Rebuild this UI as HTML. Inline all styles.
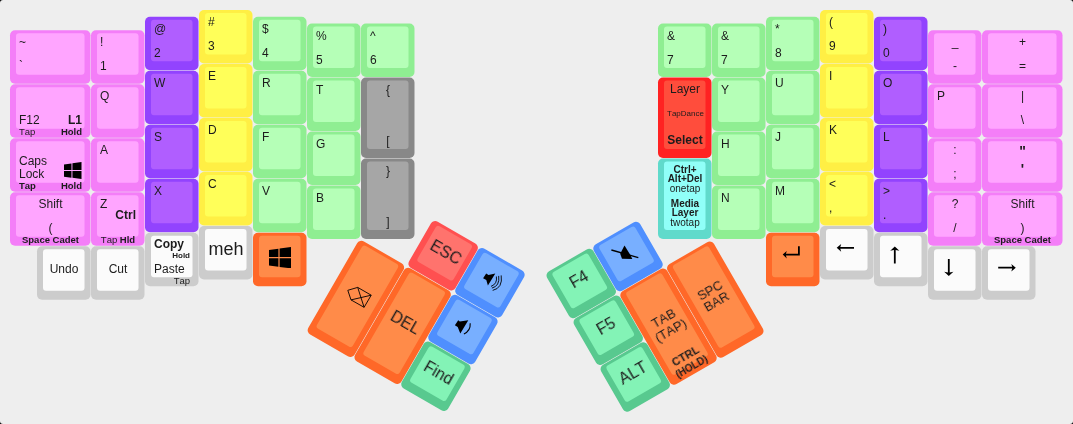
<!DOCTYPE html>
<html><head><meta charset="utf-8"><style>
html,body{margin:0;padding:0;background:#000;}
body{width:1073px;height:424px;overflow:hidden;position:relative;font-family:"Liberation Sans",sans-serif;color:#1c1c1c;font-kerning:none;}
.bg{position:absolute;left:0;top:0;width:1073px;height:424px;background:#eeeeee;border-radius:3px;}
.k{position:absolute;will-change:transform;}
.lb{position:absolute;white-space:nowrap;}
.grp{position:absolute;width:0;height:0;transform-origin:0 0;}
.ov{position:absolute;left:0;top:0;}
</style></head><body><div class="bg"></div>
<svg class="ov" width="1073" height="424" viewBox="0 0 1073 424"><rect x="10" y="30.25" width="80.5" height="53.5" rx="5" fill="#f47ef8"/><rect x="16" y="33.25" width="68.5" height="41.5" rx="3" fill="#ffa5ff"/><rect x="91" y="30.25" width="53.5" height="53.5" rx="5" fill="#f47ef8"/><rect x="97" y="33.25" width="41.5" height="41.5" rx="3" fill="#ffa5ff"/><rect x="145" y="16.75" width="53.5" height="53.5" rx="5" fill="#9243fe"/><rect x="151" y="19.75" width="41.5" height="41.5" rx="3" fill="#b05eff"/><rect x="199" y="10" width="53.5" height="53.5" rx="5" fill="#ffef44"/><rect x="205" y="13" width="41.5" height="41.5" rx="3" fill="#ffff59"/><rect x="253" y="16.75" width="53.5" height="53.5" rx="5" fill="#8fee92"/><rect x="259" y="19.75" width="41.5" height="41.5" rx="3" fill="#b5ffb7"/><rect x="307" y="23.5" width="53.5" height="53.5" rx="5" fill="#8fee92"/><rect x="313" y="26.5" width="41.5" height="41.5" rx="3" fill="#b5ffb7"/><rect x="361" y="23.5" width="53.5" height="53.5" rx="5" fill="#8fee92"/><rect x="367" y="26.5" width="41.5" height="41.5" rx="3" fill="#b5ffb7"/><rect x="10" y="84.25" width="80.5" height="53.5" rx="5" fill="#f47ef8"/><rect x="16" y="87.25" width="68.5" height="41.5" rx="3" fill="#ffa5ff"/><rect x="91" y="84.25" width="53.5" height="53.5" rx="5" fill="#f47ef8"/><rect x="97" y="87.25" width="41.5" height="41.5" rx="3" fill="#ffa5ff"/><rect x="145" y="70.75" width="53.5" height="53.5" rx="5" fill="#9243fe"/><rect x="151" y="73.75" width="41.5" height="41.5" rx="3" fill="#b05eff"/><rect x="199" y="64" width="53.5" height="53.5" rx="5" fill="#ffef44"/><rect x="205" y="67" width="41.5" height="41.5" rx="3" fill="#ffff59"/><rect x="253" y="70.75" width="53.5" height="53.5" rx="5" fill="#8fee92"/><rect x="259" y="73.75" width="41.5" height="41.5" rx="3" fill="#b5ffb7"/><rect x="307" y="77.5" width="53.5" height="53.5" rx="5" fill="#8fee92"/><rect x="313" y="80.5" width="41.5" height="41.5" rx="3" fill="#b5ffb7"/><rect x="361" y="77.5" width="53.5" height="80.5" rx="5" fill="#888888"/><rect x="367" y="80.5" width="41.5" height="68.5" rx="3" fill="#a6a6a6"/><rect x="10" y="138.25" width="80.5" height="53.5" rx="5" fill="#f47ef8"/><rect x="16" y="141.25" width="68.5" height="41.5" rx="3" fill="#ffa5ff"/><rect x="91" y="138.25" width="53.5" height="53.5" rx="5" fill="#f47ef8"/><rect x="97" y="141.25" width="41.5" height="41.5" rx="3" fill="#ffa5ff"/><rect x="145" y="124.75" width="53.5" height="53.5" rx="5" fill="#9243fe"/><rect x="151" y="127.75" width="41.5" height="41.5" rx="3" fill="#b05eff"/><rect x="199" y="118" width="53.5" height="53.5" rx="5" fill="#ffef44"/><rect x="205" y="121" width="41.5" height="41.5" rx="3" fill="#ffff59"/><rect x="253" y="124.75" width="53.5" height="53.5" rx="5" fill="#8fee92"/><rect x="259" y="127.75" width="41.5" height="41.5" rx="3" fill="#b5ffb7"/><rect x="307" y="131.5" width="53.5" height="53.5" rx="5" fill="#8fee92"/><rect x="313" y="134.5" width="41.5" height="41.5" rx="3" fill="#b5ffb7"/><rect x="361" y="158.5" width="53.5" height="80.5" rx="5" fill="#888888"/><rect x="367" y="161.5" width="41.5" height="68.5" rx="3" fill="#a6a6a6"/><rect x="10" y="192.25" width="80.5" height="53.5" rx="5" fill="#f47ef8"/><rect x="16" y="195.25" width="68.5" height="41.5" rx="3" fill="#ffa5ff"/><rect x="91" y="192.25" width="53.5" height="53.5" rx="5" fill="#f47ef8"/><rect x="97" y="195.25" width="41.5" height="41.5" rx="3" fill="#ffa5ff"/><rect x="145" y="178.75" width="53.5" height="53.5" rx="5" fill="#9243fe"/><rect x="151" y="181.75" width="41.5" height="41.5" rx="3" fill="#b05eff"/><rect x="199" y="172" width="53.5" height="53.5" rx="5" fill="#ffef44"/><rect x="205" y="175" width="41.5" height="41.5" rx="3" fill="#ffff59"/><rect x="253" y="178.75" width="53.5" height="53.5" rx="5" fill="#8fee92"/><rect x="259" y="181.75" width="41.5" height="41.5" rx="3" fill="#b5ffb7"/><rect x="307" y="185.5" width="53.5" height="53.5" rx="5" fill="#8fee92"/><rect x="313" y="188.5" width="41.5" height="41.5" rx="3" fill="#b5ffb7"/><rect x="37" y="246.25" width="53.5" height="53.5" rx="5" fill="#cccccc"/><rect x="43" y="249.25" width="41.5" height="41.5" rx="3" fill="#fbfbfb"/><rect x="91" y="246.25" width="53.5" height="53.5" rx="5" fill="#cccccc"/><rect x="97" y="249.25" width="41.5" height="41.5" rx="3" fill="#fbfbfb"/><rect x="145" y="232.75" width="53.5" height="53.5" rx="5" fill="#cccccc"/><rect x="151" y="235.75" width="41.5" height="41.5" rx="3" fill="#fbfbfb"/><rect x="199" y="226" width="53.5" height="53.5" rx="5" fill="#cccccc"/><rect x="205" y="229" width="41.5" height="41.5" rx="3" fill="#fbfbfb"/><rect x="253" y="232.75" width="53.5" height="53.5" rx="5" fill="#ff6828"/><rect x="259" y="235.75" width="41.5" height="41.5" rx="3" fill="#ff8b49"/><rect x="658" y="23.5" width="53.5" height="53.5" rx="5" fill="#8fee92"/><rect x="664" y="26.5" width="41.5" height="41.5" rx="3" fill="#b5ffb7"/><rect x="712" y="23.5" width="53.5" height="53.5" rx="5" fill="#8fee92"/><rect x="718" y="26.5" width="41.5" height="41.5" rx="3" fill="#b5ffb7"/><rect x="766" y="16.75" width="53.5" height="53.5" rx="5" fill="#8fee92"/><rect x="772" y="19.75" width="41.5" height="41.5" rx="3" fill="#b5ffb7"/><rect x="820" y="10" width="53.5" height="53.5" rx="5" fill="#ffef44"/><rect x="826" y="13" width="41.5" height="41.5" rx="3" fill="#ffff59"/><rect x="874" y="16.75" width="53.5" height="53.5" rx="5" fill="#9243fe"/><rect x="880" y="19.75" width="41.5" height="41.5" rx="3" fill="#b05eff"/><rect x="928" y="30.25" width="53.5" height="53.5" rx="5" fill="#f47ef8"/><rect x="934" y="33.25" width="41.5" height="41.5" rx="3" fill="#ffa5ff"/><rect x="982" y="30.25" width="80.5" height="53.5" rx="5" fill="#f47ef8"/><rect x="988" y="33.25" width="68.5" height="41.5" rx="3" fill="#ffa5ff"/><rect x="658" y="77.5" width="53.5" height="80.5" rx="5" fill="#ff2222"/><rect x="664" y="80.5" width="41.5" height="68.5" rx="3" fill="#ff4d3c"/><rect x="712" y="77.5" width="53.5" height="53.5" rx="5" fill="#8fee92"/><rect x="718" y="80.5" width="41.5" height="41.5" rx="3" fill="#b5ffb7"/><rect x="766" y="70.75" width="53.5" height="53.5" rx="5" fill="#8fee92"/><rect x="772" y="73.75" width="41.5" height="41.5" rx="3" fill="#b5ffb7"/><rect x="820" y="64" width="53.5" height="53.5" rx="5" fill="#ffef44"/><rect x="826" y="67" width="41.5" height="41.5" rx="3" fill="#ffff59"/><rect x="874" y="70.75" width="53.5" height="53.5" rx="5" fill="#9243fe"/><rect x="880" y="73.75" width="41.5" height="41.5" rx="3" fill="#b05eff"/><rect x="928" y="84.25" width="53.5" height="53.5" rx="5" fill="#f47ef8"/><rect x="934" y="87.25" width="41.5" height="41.5" rx="3" fill="#ffa5ff"/><rect x="982" y="84.25" width="80.5" height="53.5" rx="5" fill="#f47ef8"/><rect x="988" y="87.25" width="68.5" height="41.5" rx="3" fill="#ffa5ff"/><rect x="658" y="158.5" width="53.5" height="80.5" rx="5" fill="#60dacb"/><rect x="664" y="161.5" width="41.5" height="68.5" rx="3" fill="#90fff8"/><rect x="712" y="131.5" width="53.5" height="53.5" rx="5" fill="#8fee92"/><rect x="718" y="134.5" width="41.5" height="41.5" rx="3" fill="#b5ffb7"/><rect x="766" y="124.75" width="53.5" height="53.5" rx="5" fill="#8fee92"/><rect x="772" y="127.75" width="41.5" height="41.5" rx="3" fill="#b5ffb7"/><rect x="820" y="118" width="53.5" height="53.5" rx="5" fill="#ffef44"/><rect x="826" y="121" width="41.5" height="41.5" rx="3" fill="#ffff59"/><rect x="874" y="124.75" width="53.5" height="53.5" rx="5" fill="#9243fe"/><rect x="880" y="127.75" width="41.5" height="41.5" rx="3" fill="#b05eff"/><rect x="928" y="138.25" width="53.5" height="53.5" rx="5" fill="#f47ef8"/><rect x="934" y="141.25" width="41.5" height="41.5" rx="3" fill="#ffa5ff"/><rect x="982" y="138.25" width="80.5" height="53.5" rx="5" fill="#f47ef8"/><rect x="988" y="141.25" width="68.5" height="41.5" rx="3" fill="#ffa5ff"/><rect x="712" y="185.5" width="53.5" height="53.5" rx="5" fill="#8fee92"/><rect x="718" y="188.5" width="41.5" height="41.5" rx="3" fill="#b5ffb7"/><rect x="766" y="178.75" width="53.5" height="53.5" rx="5" fill="#8fee92"/><rect x="772" y="181.75" width="41.5" height="41.5" rx="3" fill="#b5ffb7"/><rect x="820" y="172" width="53.5" height="53.5" rx="5" fill="#ffef44"/><rect x="826" y="175" width="41.5" height="41.5" rx="3" fill="#ffff59"/><rect x="874" y="178.75" width="53.5" height="53.5" rx="5" fill="#9243fe"/><rect x="880" y="181.75" width="41.5" height="41.5" rx="3" fill="#b05eff"/><rect x="928" y="192.25" width="53.5" height="53.5" rx="5" fill="#f47ef8"/><rect x="934" y="195.25" width="41.5" height="41.5" rx="3" fill="#ffa5ff"/><rect x="982" y="192.25" width="80.5" height="53.5" rx="5" fill="#f47ef8"/><rect x="988" y="195.25" width="68.5" height="41.5" rx="3" fill="#ffa5ff"/><rect x="766" y="232.75" width="53.5" height="53.5" rx="5" fill="#ff6828"/><rect x="772" y="235.75" width="41.5" height="41.5" rx="3" fill="#ff8b49"/><rect x="820" y="226" width="53.5" height="53.5" rx="5" fill="#cccccc"/><rect x="826" y="229" width="41.5" height="41.5" rx="3" fill="#fbfbfb"/><rect x="874" y="232.75" width="53.5" height="53.5" rx="5" fill="#cccccc"/><rect x="880" y="235.75" width="41.5" height="41.5" rx="3" fill="#fbfbfb"/><rect x="928" y="246.25" width="53.5" height="53.5" rx="5" fill="#cccccc"/><rect x="934" y="249.25" width="41.5" height="41.5" rx="3" fill="#fbfbfb"/><rect x="982" y="246.25" width="53.5" height="53.5" rx="5" fill="#cccccc"/><rect x="988" y="249.25" width="41.5" height="41.5" rx="3" fill="#fbfbfb"/><g transform="translate(359.6 239) rotate(30)"><rect x="54" y="-54" width="53.5" height="53.5" rx="5" fill="#ff5050"/><rect x="60" y="-51" width="41.5" height="41.5" rx="3" fill="#ff736d"/><rect x="108" y="-54" width="53.5" height="53.5" rx="5" fill="#4f8ffe"/><rect x="114" y="-51" width="41.5" height="41.5" rx="3" fill="#78afff"/><rect x="0" y="0" width="53.5" height="107.5" rx="5" fill="#ff6828"/><rect x="6" y="3" width="41.5" height="95.5" rx="3" fill="#ff8b49"/><rect x="54" y="0" width="53.5" height="107.5" rx="5" fill="#ff6828"/><rect x="60" y="3" width="41.5" height="95.5" rx="3" fill="#ff8b49"/><rect x="108" y="0" width="53.5" height="53.5" rx="5" fill="#4f8ffe"/><rect x="114" y="3" width="41.5" height="41.5" rx="3" fill="#78afff"/><rect x="108" y="54" width="53.5" height="53.5" rx="5" fill="#58c98f"/><rect x="114" y="57" width="41.5" height="41.5" rx="3" fill="#83f3b6"/></g><g transform="translate(712 239.5) rotate(-30)"><rect x="-162" y="-54" width="53.5" height="53.5" rx="5" fill="#58c98f"/><rect x="-156" y="-51" width="41.5" height="41.5" rx="3" fill="#83f3b6"/><rect x="-108" y="-54" width="53.5" height="53.5" rx="5" fill="#4f8ffe"/><rect x="-102" y="-51" width="41.5" height="41.5" rx="3" fill="#78afff"/><rect x="-162" y="0" width="53.5" height="53.5" rx="5" fill="#58c98f"/><rect x="-156" y="3" width="41.5" height="41.5" rx="3" fill="#83f3b6"/><rect x="-108" y="0" width="53.5" height="107.5" rx="5" fill="#ff6828"/><rect x="-102" y="3" width="41.5" height="95.5" rx="3" fill="#ff8b49"/><rect x="-54" y="0" width="53.5" height="107.5" rx="5" fill="#ff6828"/><rect x="-48" y="3" width="41.5" height="95.5" rx="3" fill="#ff8b49"/><rect x="-162" y="54" width="53.5" height="53.5" rx="5" fill="#58c98f"/><rect x="-156" y="57" width="41.5" height="41.5" rx="3" fill="#83f3b6"/></g></svg>
<div class="k" style="left:10px;top:30.25px;width:81px;height:54px"><div class="lb" style="left:9.00px;top:6.00px;width:63.00px;text-align:left;font-size:12px;line-height:12px;">~</div><div class="lb" style="left:9.00px;top:30.00px;width:63.00px;text-align:left;font-size:12px;line-height:12px;">`</div></div>
<div class="k" style="left:91px;top:30.25px;width:54px;height:54px"><div class="lb" style="left:9.00px;top:6.00px;width:36.00px;text-align:left;font-size:12px;line-height:12px;">!</div><div class="lb" style="left:9.00px;top:30.00px;width:36.00px;text-align:left;font-size:12px;line-height:12px;">1</div></div>
<div class="k" style="left:145px;top:16.75px;width:54px;height:54px"><div class="lb" style="left:9.00px;top:6.00px;width:36.00px;text-align:left;font-size:12px;line-height:12px;">@</div><div class="lb" style="left:9.00px;top:30.00px;width:36.00px;text-align:left;font-size:12px;line-height:12px;">2</div></div>
<div class="k" style="left:199px;top:10px;width:54px;height:54px"><div class="lb" style="left:9.00px;top:6.00px;width:36.00px;text-align:left;font-size:12px;line-height:12px;">#</div><div class="lb" style="left:9.00px;top:30.00px;width:36.00px;text-align:left;font-size:12px;line-height:12px;">3</div></div>
<div class="k" style="left:253px;top:16.75px;width:54px;height:54px"><div class="lb" style="left:9.00px;top:6.00px;width:36.00px;text-align:left;font-size:12px;line-height:12px;">$</div><div class="lb" style="left:9.00px;top:30.00px;width:36.00px;text-align:left;font-size:12px;line-height:12px;">4</div></div>
<div class="k" style="left:307px;top:23.5px;width:54px;height:54px"><div class="lb" style="left:9.00px;top:6.00px;width:36.00px;text-align:left;font-size:12px;line-height:12px;">%</div><div class="lb" style="left:9.00px;top:30.00px;width:36.00px;text-align:left;font-size:12px;line-height:12px;">5</div></div>
<div class="k" style="left:361px;top:23.5px;width:54px;height:54px"><div class="lb" style="left:9.00px;top:6.00px;width:36.00px;text-align:left;font-size:12px;line-height:12px;">^</div><div class="lb" style="left:9.00px;top:30.00px;width:36.00px;text-align:left;font-size:12px;line-height:12px;">6</div></div>
<div class="k" style="left:10px;top:84.25px;width:81px;height:54px"><div class="lb" style="left:9.00px;top:30.00px;width:63.00px;text-align:left;font-size:12px;line-height:12px;">F12</div><div class="lb" style="left:9.00px;top:30.00px;width:63.00px;text-align:right;font-size:12px;line-height:12px;"><b>L1</b></div><div class="lb" style="left:9.00px;top:42.96px;width:63.00px;text-align:left;font-size:9.5px;line-height:9.5px;">Tap</div><div class="lb" style="left:9.00px;top:42.96px;width:63.00px;text-align:right;font-size:9.5px;line-height:9.5px;"><b>Hold</b></div></div>
<div class="k" style="left:91px;top:84.25px;width:54px;height:54px"><div class="lb" style="left:9.00px;top:6.00px;width:36.00px;text-align:left;font-size:12px;line-height:12px;">Q</div></div>
<div class="k" style="left:145px;top:70.75px;width:54px;height:54px"><div class="lb" style="left:9.00px;top:6.00px;width:36.00px;text-align:left;font-size:12px;line-height:12px;">W</div></div>
<div class="k" style="left:199px;top:64px;width:54px;height:54px"><div class="lb" style="left:9.00px;top:6.00px;width:36.00px;text-align:left;font-size:12px;line-height:12px;">E</div></div>
<div class="k" style="left:253px;top:70.75px;width:54px;height:54px"><div class="lb" style="left:9.00px;top:6.00px;width:36.00px;text-align:left;font-size:12px;line-height:12px;">R</div></div>
<div class="k" style="left:307px;top:77.5px;width:54px;height:54px"><div class="lb" style="left:9.00px;top:6.00px;width:36.00px;text-align:left;font-size:12px;line-height:12px;">T</div></div>
<div class="k" style="left:361px;top:77.5px;width:54px;height:81px"><div class="lb" style="left:9.00px;top:6.00px;width:36.00px;text-align:center;font-size:12px;line-height:12px;">{</div><div class="lb" style="left:9.00px;top:57.00px;width:36.00px;text-align:center;font-size:12px;line-height:12px;">[</div></div>
<div class="k" style="left:10px;top:138.25px;width:81px;height:54px"><div class="lb" style="left:9.00px;top:17.00px;width:63.00px;text-align:left;font-size:12px;line-height:13px;">Caps<br>Lock</div><div class="lb" style="left:54px;top:23.75px;width:17.5px;height:17px"><svg width="17.5" height="17" viewBox="0 0 22 21.4" preserveAspectRatio="none" style="position:absolute;left:0;top:0"><path d="M0 3 L9.4 1.75 V10 H0 Z M10.6 1.6 L22 0 V10 H10.6 Z M0 11.2 H9.4 V19.75 L0 18.6 Z M10.6 11.2 H22 V21.4 L10.6 19.9 Z" fill="#000"/></svg></div><div class="lb" style="left:9.00px;top:42.96px;width:63.00px;text-align:left;font-size:9.5px;line-height:9.5px;"><b>Tap</b></div><div class="lb" style="left:9.00px;top:42.96px;width:63.00px;text-align:right;font-size:9.5px;line-height:9.5px;"><b>Hold</b></div></div>
<div class="k" style="left:91px;top:138.25px;width:54px;height:54px"><div class="lb" style="left:9.00px;top:6.00px;width:36.00px;text-align:left;font-size:12px;line-height:12px;">A</div></div>
<div class="k" style="left:145px;top:124.75px;width:54px;height:54px"><div class="lb" style="left:9.00px;top:6.00px;width:36.00px;text-align:left;font-size:12px;line-height:12px;">S</div></div>
<div class="k" style="left:199px;top:118px;width:54px;height:54px"><div class="lb" style="left:9.00px;top:6.00px;width:36.00px;text-align:left;font-size:12px;line-height:12px;">D</div></div>
<div class="k" style="left:253px;top:124.75px;width:54px;height:54px"><div class="lb" style="left:9.00px;top:6.00px;width:36.00px;text-align:left;font-size:12px;line-height:12px;">F</div></div>
<div class="k" style="left:307px;top:131.5px;width:54px;height:54px"><div class="lb" style="left:9.00px;top:6.00px;width:36.00px;text-align:left;font-size:12px;line-height:12px;">G</div></div>
<div class="k" style="left:361px;top:158.5px;width:54px;height:81px"><div class="lb" style="left:9.00px;top:6.00px;width:36.00px;text-align:center;font-size:12px;line-height:12px;">}</div><div class="lb" style="left:9.00px;top:57.00px;width:36.00px;text-align:center;font-size:12px;line-height:12px;">]</div></div>
<div class="k" style="left:10px;top:192.25px;width:81px;height:54px"><div class="lb" style="left:9.00px;top:6.00px;width:63.00px;text-align:center;font-size:12px;line-height:12px;">Shift</div><div class="lb" style="left:9.00px;top:30.00px;width:63.00px;text-align:center;font-size:12px;line-height:12px;">(</div><div class="lb" style="left:9.00px;top:42.96px;width:63.00px;text-align:center;font-size:9.5px;line-height:9.5px;"><b>Space Cadet</b></div></div>
<div class="k" style="left:91px;top:192.25px;width:54px;height:54px"><div class="lb" style="left:9.00px;top:6.00px;width:36.00px;text-align:left;font-size:12px;line-height:12px;">Z</div><div class="lb" style="left:9.00px;top:17.00px;width:36.00px;text-align:right;font-size:12px;line-height:12px;"><b>Ctrl</b></div><div class="lb" style="left:9.00px;top:42.96px;width:36.00px;text-align:center;font-size:9.5px;line-height:9.5px;">Tap <b>Hld</b></div></div>
<div class="k" style="left:145px;top:178.75px;width:54px;height:54px"><div class="lb" style="left:9.00px;top:6.00px;width:36.00px;text-align:left;font-size:12px;line-height:12px;">X</div></div>
<div class="k" style="left:199px;top:172px;width:54px;height:54px"><div class="lb" style="left:9.00px;top:6.00px;width:36.00px;text-align:left;font-size:12px;line-height:12px;">C</div></div>
<div class="k" style="left:253px;top:178.75px;width:54px;height:54px"><div class="lb" style="left:9.00px;top:6.00px;width:36.00px;text-align:left;font-size:12px;line-height:12px;">V</div></div>
<div class="k" style="left:307px;top:185.5px;width:54px;height:54px"><div class="lb" style="left:9.00px;top:6.00px;width:36.00px;text-align:left;font-size:12px;line-height:12px;">B</div></div>
<div class="k" style="left:37px;top:246.25px;width:54px;height:54px"><div class="lb" style="left:9.00px;top:17.00px;width:36.00px;text-align:center;font-size:12px;line-height:12px;">Undo</div></div>
<div class="k" style="left:91px;top:246.25px;width:54px;height:54px"><div class="lb" style="left:9.00px;top:17.00px;width:36.00px;text-align:center;font-size:12px;line-height:12px;">Cut</div></div>
<div class="k" style="left:145px;top:232.75px;width:54px;height:54px"><div class="lb" style="left:9.00px;top:5.00px;width:36.00px;text-align:left;font-size:12px;line-height:12px;"><b>Copy</b></div><div class="lb" style="left:9.00px;top:19.00px;width:36.00px;text-align:right;font-size:8px;line-height:8px;"><b>Hold</b></div><div class="lb" style="left:9.00px;top:30.00px;width:36.00px;text-align:left;font-size:12px;line-height:12px;">Paste</div><div class="lb" style="left:9.00px;top:42.96px;width:36.00px;text-align:right;font-size:9.5px;line-height:9.5px;">Tap</div></div>
<div class="k" style="left:199px;top:226px;width:54px;height:54px"><div class="lb" style="left:9.00px;top:13.50px;width:36.00px;text-align:center;font-size:18px;line-height:18px;">meh</div></div>
<div class="k" style="left:253px;top:232.75px;width:54px;height:54px"><div class="lb" style="left:15.7px;top:13.85px;width:22px;height:21.4px"><svg width="22" height="21.4" viewBox="0 0 22 21.4" preserveAspectRatio="none" style="position:absolute;left:0;top:0"><path d="M0 3 L9.4 1.75 V10 H0 Z M10.6 1.6 L22 0 V10 H10.6 Z M0 11.2 H9.4 V19.75 L0 18.6 Z M10.6 11.2 H22 V21.4 L10.6 19.9 Z" fill="#000"/></svg></div></div>
<div class="k" style="left:658px;top:23.5px;width:54px;height:54px"><div class="lb" style="left:9.00px;top:6.00px;width:36.00px;text-align:left;font-size:12px;line-height:12px;">&amp;</div><div class="lb" style="left:9.00px;top:30.00px;width:36.00px;text-align:left;font-size:12px;line-height:12px;">7</div></div>
<div class="k" style="left:712px;top:23.5px;width:54px;height:54px"><div class="lb" style="left:9.00px;top:6.00px;width:36.00px;text-align:left;font-size:12px;line-height:12px;">&amp;</div><div class="lb" style="left:9.00px;top:30.00px;width:36.00px;text-align:left;font-size:12px;line-height:12px;">7</div></div>
<div class="k" style="left:766px;top:16.75px;width:54px;height:54px"><div class="lb" style="left:9.00px;top:6.00px;width:36.00px;text-align:left;font-size:12px;line-height:12px;">*</div><div class="lb" style="left:9.00px;top:30.00px;width:36.00px;text-align:left;font-size:12px;line-height:12px;">8</div></div>
<div class="k" style="left:820px;top:10px;width:54px;height:54px"><div class="lb" style="left:9.00px;top:6.00px;width:36.00px;text-align:left;font-size:12px;line-height:12px;">(</div><div class="lb" style="left:9.00px;top:30.00px;width:36.00px;text-align:left;font-size:12px;line-height:12px;">9</div></div>
<div class="k" style="left:874px;top:16.75px;width:54px;height:54px"><div class="lb" style="left:9.00px;top:6.00px;width:36.00px;text-align:left;font-size:12px;line-height:12px;">)</div><div class="lb" style="left:9.00px;top:30.00px;width:36.00px;text-align:left;font-size:12px;line-height:12px;">0</div></div>
<div class="k" style="left:928px;top:30.25px;width:54px;height:54px"><div class="lb" style="left:9.00px;top:6.00px;width:36.00px;text-align:center;font-size:12px;line-height:12px;">_</div><div class="lb" style="left:9.00px;top:30.00px;width:36.00px;text-align:center;font-size:12px;line-height:12px;">-</div></div>
<div class="k" style="left:982px;top:30.25px;width:81px;height:54px"><div class="lb" style="left:9.00px;top:6.00px;width:63.00px;text-align:center;font-size:12px;line-height:12px;">+</div><div class="lb" style="left:9.00px;top:30.00px;width:63.00px;text-align:center;font-size:12px;line-height:12px;">=</div></div>
<div class="k" style="left:658px;top:77.5px;width:54px;height:81px"><div class="lb" style="left:9.00px;top:5.00px;width:36.00px;text-align:center;font-size:12px;line-height:12px;">Layer</div><div class="lb" style="left:9.00px;top:31.50px;width:36.00px;text-align:center;font-size:8px;line-height:8px;">TapDance</div><div class="lb" style="left:9.00px;top:56.00px;width:36.00px;text-align:center;font-size:12px;line-height:12px;"><b>Select</b></div></div>
<div class="k" style="left:712px;top:77.5px;width:54px;height:54px"><div class="lb" style="left:9.00px;top:6.00px;width:36.00px;text-align:left;font-size:12px;line-height:12px;">Y</div></div>
<div class="k" style="left:766px;top:70.75px;width:54px;height:54px"><div class="lb" style="left:9.00px;top:6.00px;width:36.00px;text-align:left;font-size:12px;line-height:12px;">U</div></div>
<div class="k" style="left:820px;top:64px;width:54px;height:54px"><div class="lb" style="left:9.00px;top:6.00px;width:36.00px;text-align:left;font-size:12px;line-height:12px;">I</div></div>
<div class="k" style="left:874px;top:70.75px;width:54px;height:54px"><div class="lb" style="left:9.00px;top:6.00px;width:36.00px;text-align:left;font-size:12px;line-height:12px;">O</div></div>
<div class="k" style="left:928px;top:84.25px;width:54px;height:54px"><div class="lb" style="left:9.00px;top:6.00px;width:36.00px;text-align:left;font-size:12px;line-height:12px;">P</div></div>
<div class="k" style="left:982px;top:84.25px;width:81px;height:54px"><div class="lb" style="left:9.00px;top:6.00px;width:63.00px;text-align:center;font-size:12px;line-height:12px;">|</div><div class="lb" style="left:9.00px;top:30.00px;width:63.00px;text-align:center;font-size:12px;line-height:12px;">\</div></div>
<div class="k" style="left:658px;top:158.5px;width:54px;height:81px"><div class="lb" style="left:9.00px;top:6.08px;width:36.00px;text-align:center;font-size:10px;line-height:9.3px;"><b>Ctrl+<br>Alt+Del</b><br>onetap<div style="height:6px"></div><b>Media<br>Layer</b><br>twotap</div></div>
<div class="k" style="left:712px;top:131.5px;width:54px;height:54px"><div class="lb" style="left:9.00px;top:6.00px;width:36.00px;text-align:left;font-size:12px;line-height:12px;">H</div></div>
<div class="k" style="left:766px;top:124.75px;width:54px;height:54px"><div class="lb" style="left:9.00px;top:6.00px;width:36.00px;text-align:left;font-size:12px;line-height:12px;">J</div></div>
<div class="k" style="left:820px;top:118px;width:54px;height:54px"><div class="lb" style="left:9.00px;top:6.00px;width:36.00px;text-align:left;font-size:12px;line-height:12px;">K</div></div>
<div class="k" style="left:874px;top:124.75px;width:54px;height:54px"><div class="lb" style="left:9.00px;top:6.00px;width:36.00px;text-align:left;font-size:12px;line-height:12px;">L</div></div>
<div class="k" style="left:928px;top:138.25px;width:54px;height:54px"><div class="lb" style="left:9.00px;top:6.00px;width:36.00px;text-align:center;font-size:12px;line-height:12px;">:</div><div class="lb" style="left:9.00px;top:30.00px;width:36.00px;text-align:center;font-size:12px;line-height:12px;">;</div></div>
<div class="k" style="left:982px;top:138.25px;width:81px;height:54px"><div class="lb" style="left:9.00px;top:6.35px;width:63.00px;text-align:center;font-size:14px;line-height:14px;"><b>"</b></div><div class="lb" style="left:9.00px;top:23.65px;width:63.00px;text-align:center;font-size:14px;line-height:14px;"><b>'</b></div></div>
<div class="k" style="left:712px;top:185.5px;width:54px;height:54px"><div class="lb" style="left:9.00px;top:6.00px;width:36.00px;text-align:left;font-size:12px;line-height:12px;">N</div></div>
<div class="k" style="left:766px;top:178.75px;width:54px;height:54px"><div class="lb" style="left:9.00px;top:6.00px;width:36.00px;text-align:left;font-size:12px;line-height:12px;">M</div></div>
<div class="k" style="left:820px;top:172px;width:54px;height:54px"><div class="lb" style="left:9.00px;top:6.00px;width:36.00px;text-align:left;font-size:12px;line-height:12px;">&lt;</div><div class="lb" style="left:9.00px;top:30.00px;width:36.00px;text-align:left;font-size:12px;line-height:12px;">,</div></div>
<div class="k" style="left:874px;top:178.75px;width:54px;height:54px"><div class="lb" style="left:9.00px;top:6.00px;width:36.00px;text-align:left;font-size:12px;line-height:12px;">&gt;</div><div class="lb" style="left:9.00px;top:30.00px;width:36.00px;text-align:left;font-size:12px;line-height:12px;">.</div></div>
<div class="k" style="left:928px;top:192.25px;width:54px;height:54px"><div class="lb" style="left:9.00px;top:6.00px;width:36.00px;text-align:center;font-size:12px;line-height:12px;">?</div><div class="lb" style="left:9.00px;top:30.00px;width:36.00px;text-align:center;font-size:12px;line-height:12px;">/</div></div>
<div class="k" style="left:982px;top:192.25px;width:81px;height:54px"><div class="lb" style="left:9.00px;top:6.00px;width:63.00px;text-align:center;font-size:12px;line-height:12px;">Shift</div><div class="lb" style="left:9.00px;top:30.00px;width:63.00px;text-align:center;font-size:12px;line-height:12px;">)</div><div class="lb" style="left:9.00px;top:42.96px;width:63.00px;text-align:center;font-size:9.5px;line-height:9.5px;"><b>Space Cadet</b></div></div>
<div class="k" style="left:766px;top:232.75px;width:54px;height:54px"></div>
<div class="k" style="left:820px;top:226px;width:54px;height:54px"></div>
<div class="k" style="left:874px;top:232.75px;width:54px;height:54px"></div>
<div class="k" style="left:928px;top:246.25px;width:54px;height:54px"></div>
<div class="k" style="left:982px;top:246.25px;width:54px;height:54px"></div>
<div class="grp" style="left:359.6px;top:239px;transform:rotate(30deg)"><div class="k" style="left:54px;top:-54px;width:54px;height:54px"><div class="lb" style="left:9.00px;top:15.00px;width:36.00px;text-align:center;font-size:16px;line-height:16px;">ESC</div></div><div class="k" style="left:108px;top:-54px;width:54px;height:54px"></div><div class="k" style="left:0px;top:0px;width:54px;height:108px"></div><div class="k" style="left:54px;top:0px;width:54px;height:108px"><div class="lb" style="left:9.00px;top:42.00px;width:36.00px;text-align:center;font-size:16px;line-height:16px;">DEL</div></div><div class="k" style="left:108px;top:0px;width:54px;height:54px"></div><div class="k" style="left:108px;top:54px;width:54px;height:54px"><div class="lb" style="left:9.00px;top:15.00px;width:36.00px;text-align:center;font-size:16px;line-height:16px;">Find</div></div></div>
<div class="grp" style="left:712px;top:239.5px;transform:rotate(-30deg)"><div class="k" style="left:-162px;top:-54px;width:54px;height:54px"><div class="lb" style="left:9.00px;top:14.00px;width:36.00px;text-align:center;font-size:16px;line-height:16px;">F4</div></div><div class="k" style="left:-108px;top:-54px;width:54px;height:54px"></div><div class="k" style="left:-162px;top:0px;width:54px;height:54px"><div class="lb" style="left:9.00px;top:14.00px;width:36.00px;text-align:center;font-size:16px;line-height:16px;">F5</div></div><div class="k" style="left:-108px;top:0px;width:54px;height:108px"><div class="lb" style="left:9.00px;top:37.00px;width:36.00px;text-align:center;font-size:13px;line-height:13.5px;">TAB<br>(TAP)</div><div class="lb" style="left:9.00px;top:81.69px;width:36.00px;text-align:center;font-size:11px;line-height:11px;"><b>CTRL</b></div><div class="lb" style="left:9.00px;top:94.83px;width:36.00px;text-align:center;font-size:10px;line-height:10px;"><b>(HOLD)</b></div></div><div class="k" style="left:-54px;top:0px;width:54px;height:108px"><div class="lb" style="left:9.00px;top:36.00px;width:36.00px;text-align:center;font-size:13px;line-height:13px;">SPC<br>BAR</div></div><div class="k" style="left:-162px;top:54px;width:54px;height:54px"><div class="lb" style="left:9.00px;top:14.00px;width:36.00px;text-align:center;font-size:16px;line-height:16px;">ALT</div></div></div>
<svg class="ov" width="1073" height="424" viewBox="0 0 1073 424">
<g fill="#000" stroke="none">
<path d="M836.7 247.8 L841.2 243.9 L840.3 246.9 H854 V248.7 H840.3 L841.2 251.7 Z"/>
<path d="M894.8 246.4 L899.4 250.8 L895.7 250 V263.4 H893.9 V250 L890.2 250.8 Z"/>
<path d="M948.8 276.1 L953.4 271.8 L949.7 272.6 V259.1 H947.9 V272.6 L944.2 271.8 Z"/>
<path d="M1015.8 267.7 L1011.3 263.9 L1012.2 266.8 H998.2 V268.6 H1012.2 L1011.3 271.6 Z"/>
<path d="M782.7 254.6 L786.8 250.9 L785.9 253.8 H798 V246.2 H799.8 V255.5 H785.9 L786.8 258.5 Z"/>
</g>
<g fill="#000" stroke="none">
<path d="M483.1 278.2 L486.2 273.4 L488.5 275.1 L495.3 273.4 L487.9 285.6 L486.3 279.9 Z"/>
<path d="M454.9 325.3 L458.2 320.2 L459.8 321.4 L468.3 320.2 L460.3 333.4 L457.7 326.9 Z"/>
<path d="M624.5 245.6 L630.5 255.2 L632.3 259.1 L622 258.8 L620.2 253.8 Z"/>
</g>
<g fill="none" stroke="#000" stroke-width="0.9">
<path d="M347.8 290.3 L357.7 287.4 L371.2 295.2 L364.1 307.3 L351 299.9 Z M357.7 287.4 L364.1 307.3 M351 299.9 L371.2 295.2"/>
<path d="M611.4 250 L638.3 257.6" stroke-width="1.3"/>
<path d="M463.9 333.9 Q470.7 331 470.2 323.3" stroke-width="1.1"/>
<path d="M491 286.4 Q497.5 284 496.4 276.5"/>
<path d="M491.9 288.1 Q500 286 498.7 275.9"/>
<path d="M492.7 290.4 Q503 288 501.2 275.4"/>
</g></svg>
</body></html>
